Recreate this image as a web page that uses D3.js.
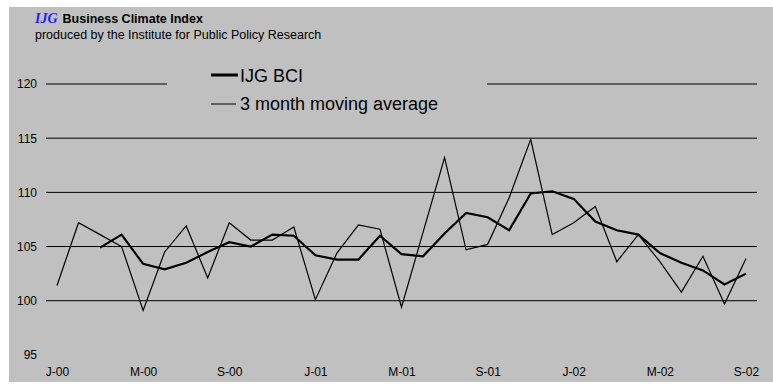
<!DOCTYPE html>
<html>
<head>
<meta charset="utf-8">
<script src="https://cdn.jsdelivr.net/npm/d3@7"></script>
<style>
  body { margin: 0; background: #fff; }
  svg text { font-family: "Liberation Sans", Arial, sans-serif; fill: #000; }
</style>
</head>
<body>
<svg width="773" height="387"></svg>
<script>
// IJG Business Climate Index, Jan 2000 - Sep 2002

var months = d3.range(0, 33); // J-00 .. S-02
var bci = [101.4, 107.2, 106.1, 105.0, 99.1, 104.5, 106.9, 102.1, 107.2, 105.6, 105.6,
  106.8, 100.1, 104.4, 107.0, 106.6, 99.4, 106.3, 113.2, 104.7, 105.2, 109.5,
  114.9, 106.1, 107.2, 108.7, 103.6, 106.1, 103.6, 100.8, 104.1, 99.7, 103.9];
// moving average starts in the third month
var avgStart = 2;
var avg = [104.9, 106.1, 103.4, 102.9, 103.5, 104.5, 105.4, 105.0, 106.1, 106.0,
  104.2, 103.8, 103.8, 106.0, 104.3, 104.1, 106.2, 108.1, 107.7, 106.5,
  109.9, 110.1, 109.4, 107.3, 106.5, 106.1, 104.4, 103.5, 102.8, 101.5, 102.5];
var xLabels = ["J-00", "M-00", "S-00", "J-01", "M-01", "S-01", "J-02", "M-02", "S-02"];
var xLabelIdx = [0, 4, 8, 12, 16, 20, 24, 28, 32];
var yTicks = [95, 100, 105, 110, 115, 120];
var gridTicks = [100, 105, 110, 115, 120];

var svg = d3.select("svg");

// gray panel
svg.append("rect")
  .attr("x", 9).attr("y", 7)
  .attr("width", 764).attr("height", 375)
  .attr("fill", "#c0c0c0");

var x = d3.scaleLinear().domain([0, 32]).range([57, 746]);
var y = d3.scaleLinear().domain([95, 120]).range([354.9, 84]);

// gridlines
svg.append("g")
  .selectAll("line")
  .data(gridTicks)
  .enter().append("line")
  .attr("x1", 46).attr("x2", 757)
  .attr("y1", function (d) { return y(d); })
  .attr("y2", function (d) { return y(d); })
  .attr("stroke", "#000")
  .attr("stroke-width", 1);

// y axis labels
var yAxis = svg.append("g")
  .attr("transform", "translate(37,0)")
  .call(d3.axisLeft(y).tickValues(yTicks).tickSize(0).tickPadding(0));
yAxis.select(".domain").remove();
yAxis.selectAll("text")
  .style("font-size", "12px")
  .style("font-family", "Liberation Sans, Arial, sans-serif");

// x axis labels
var xAxis = svg.append("g")
  .attr("transform", "translate(0,367)")
  .call(d3.axisBottom(x).tickValues(xLabelIdx).tickSize(0).tickPadding(0)
    .tickFormat(function (d, i) { return xLabels[i]; }));
xAxis.select(".domain").remove();
xAxis.selectAll("text")
  .style("font-size", "12px")
  .style("font-family", "Liberation Sans, Arial, sans-serif");

// lines
var line = d3.line()
  .x(function (d) { return x(d[0]); })
  .y(function (d) { return y(d[1]); });

svg.append("path")
  .datum(bci.map(function (v, i) { return [months[i], v]; }))
  .attr("fill", "none")
  .attr("stroke", "#000")
  .attr("stroke-width", 1.2)
  .attr("d", line);

svg.append("path")
  .datum(avg.map(function (v, i) { return [months[i + avgStart], v]; }))
  .attr("fill", "none")
  .attr("stroke", "#000")
  .attr("stroke-width", 2.2)
  .attr("d", line);

// legend (covers the 120 gridline like the original)
var legend = svg.append("g");
legend.append("rect")
  .attr("x", 167).attr("y", 62)
  .attr("width", 320).attr("height", 56)
  .attr("fill", "#c0c0c0");
legend.append("line")
  .attr("x1", 211).attr("x2", 238).attr("y1", 75).attr("y2", 75)
  .attr("stroke", "#000").attr("stroke-width", 3);
legend.append("text")
  .attr("x", 240).attr("y", 82)
  .style("font-size", "18px")
  .text("IJG BCI");
legend.append("line")
  .attr("x1", 211).attr("x2", 236).attr("y1", 104).attr("y2", 104)
  .attr("stroke", "#000").attr("stroke-width", 1);
legend.append("text")
  .attr("x", 240).attr("y", 110)
  .style("font-size", "18px")
  .text("3 month moving average");

// title
var title = svg.append("text").attr("x", 35).attr("y", 23);
title.append("tspan")
  .style("font-family", "Liberation Serif, Times New Roman, serif")
  .style("font-style", "italic")
  .style("font-weight", "bold")
  .style("font-size", "14px")
  .style("fill", "#2020ff")
  .text("IJG");
title.append("tspan")
  .attr("dx", 5)
  .style("font-weight", "bold")
  .style("font-size", "12.5px")
  .text("Business Climate Index");

svg.append("text")
  .attr("x", 35).attr("y", 39)
  .style("font-size", "12.5px")
  .text("produced by the Institute for Public Policy Research");
</script>
</body>
</html>
